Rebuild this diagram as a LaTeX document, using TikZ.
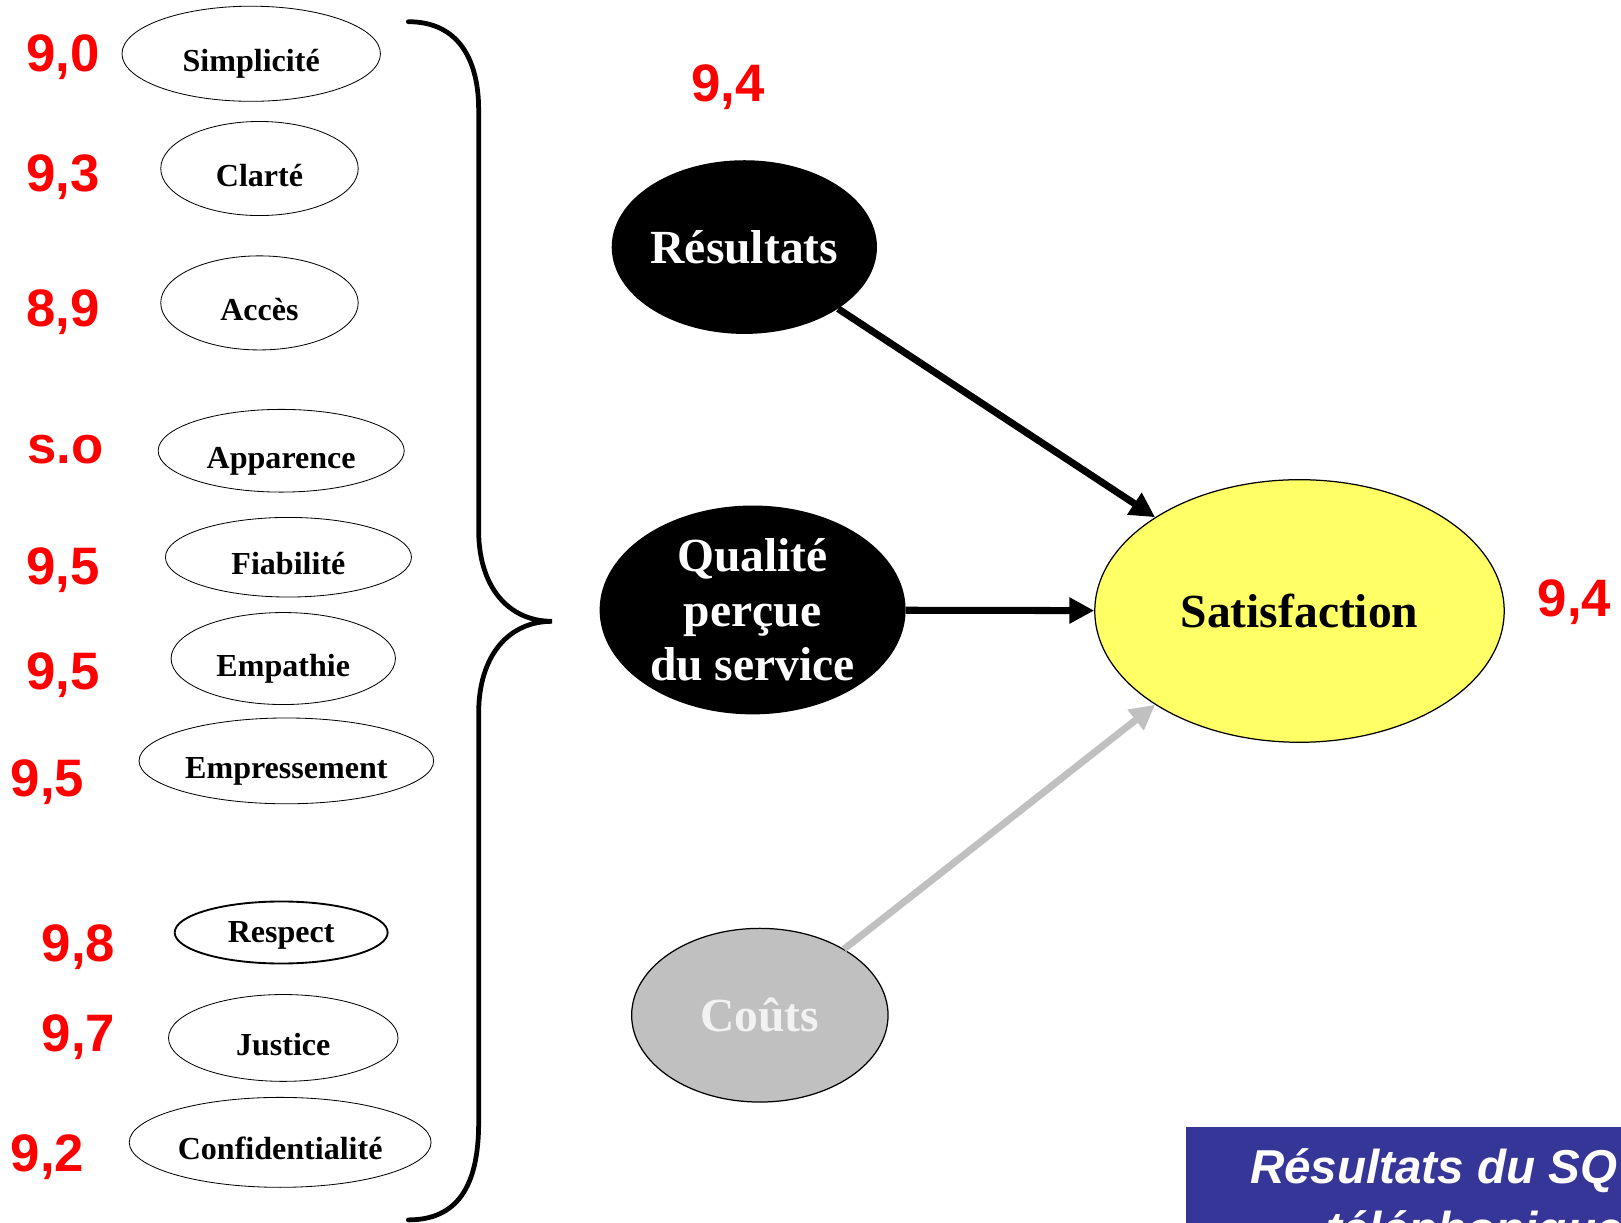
\documentclass[tikz,border=0pt]{standalone}
\usepackage{fontspec}
\setmainfont{Liberation Serif}
\newfontfamily\arialfont{Liberation Sans}
\usetikzlibrary{shapes.geometric,arrows.meta}
\definecolor{scorered}{RGB}{255,0,0}
\definecolor{satyellow}{RGB}{255,255,102}
\definecolor{costgray}{RGB}{192,192,192}
\definecolor{costtext}{RGB}{242,242,242}
\definecolor{bannerblue}{RGB}{54,54,153}
\begin{document}
\begin{tikzpicture}[x=1pt,y=-1pt,
  dimension/.style={ellipse,draw,line width=0.8pt,inner sep=0pt,
    text height=34pt,text depth=0pt,font=\bfseries\fontsize{31}{31}\selectfont},
  score/.style={anchor=base,text=scorered,inner sep=0pt,
    font=\arialfont\bfseries\fontsize{51}{51}\selectfont},
  factor/.style={ellipse,inner sep=0pt,align=center,
    font=\bfseries\fontsize{46}{52.5}\selectfont},
  link/.style={line width=6.8pt,-{Triangle[length=24pt,width=24pt]}},
  brace/.style={line width=4.6pt,line cap=round},
]
\useasboundingbox (0,0) rectangle (1568,1183);

% dimensions of perceived service quality
\node[dimension,minimum width=250pt,minimum height=92pt] (simp) at (243,52) {Simplicité};
\node[dimension,minimum width=191pt,minimum height=91pt] (clar) at (251,163) {Clarté};
\node[dimension,minimum width=191pt,minimum height=91pt] (acces) at (251,293) {Accès};
\node[dimension,minimum width=238pt,minimum height=80pt] (appar) at (272,436) {Apparence};
\node[dimension,minimum width=238pt,minimum height=77pt] (fiab) at (279,539) {Fiabilité};
\node[dimension,minimum width=217pt,minimum height=89pt] (empa) at (274,637) {Empathie};
\node[dimension,minimum width=285pt,minimum height=83pt] (empr) at (277,736) {Empressement};
\node[dimension,line width=1.8pt,text height=20pt,minimum width=206pt,minimum height=60pt] (resp) at (272,902) {Respect};
\node[dimension,minimum width=222pt,minimum height=84pt] (just) at (274,1004) {Justice};
\node[dimension,minimum width=292pt,minimum height=87pt] (conf) at (271,1105) {Confidentialité};

% scores
\node[score] (ssimp) at (61,69) {9,0};
\node[score] (sclar) at (61,185) {9,3};
\node[score] (sacces) at (61,316) {8,9};
\node[score] (sappar) at (63,448) {s.o};
\node[score] (sfiab) at (61,565) {9,5};
\node[score] (sempa) at (61,667) {9,5};
\node[score] (sempr) at (46,770) {9,5};
\node[score] (sresp) at (76,930) {9,8};
\node[score] (sjust) at (76,1017) {9,7};
\node[score] (sconf) at (46,1133) {9,2};
\node[score] (sres) at (704,98) {9,4};
\node[score] (ssat) at (1523,596) {9,4};

% grouping brace
\draw[brace] (395,21) .. controls (445,21) and (463,60) .. (463,106)
  -- (463,513) .. controls (463,568) and (492,601) .. (534,601)
  .. controls (492,601) and (463,634) .. (463,690)
  -- (463,1086) .. controls (463,1148) and (442,1180) .. (395,1180);

% main factors
\node[factor,fill=black,text=white,minimum width=250pt,minimum height=168pt] (res) at (720,239) {Résultats};
\node[factor,fill=black,text=white,minimum width=296pt,minimum height=202pt] (qual) at (728,590) {Qualité\\perçue\\du service};
\node[factor,draw,line width=1.2pt,fill=costgray,text=costtext,minimum width=248pt,minimum height=168pt] (cout) at (735,982) {Coûts};
\node[factor,draw,line width=1.2pt,fill=satyellow,minimum width=396pt,minimum height=254pt] (sat) at (1257,591) {Satisfaction};

% influences on satisfaction
\draw[link] (res) -- (sat.147);
\draw[link] (qual) -- (sat);
\draw[link,draw=costgray,fill=costgray] (cout) -- (sat.213);

% title banner
\fill[bannerblue] (1147,1090) rectangle (1568,1183);
\begin{scope}
  \clip (1147,1090) rectangle (1568,1183);
  \node[anchor=base west,inner sep=0pt,text=white,
    font=\arialfont\bfseries\itshape\fontsize{46}{46}\selectfont] (title1) at (1209,1145) {Résultats du SQ};
  \node[anchor=base west,inner sep=0pt,text=white,
    font=\arialfont\bfseries\itshape\fontsize{46}{46}\selectfont] (title2) at (1283,1205) {téléphonique};
\end{scope}
\end{tikzpicture}
\end{document}
